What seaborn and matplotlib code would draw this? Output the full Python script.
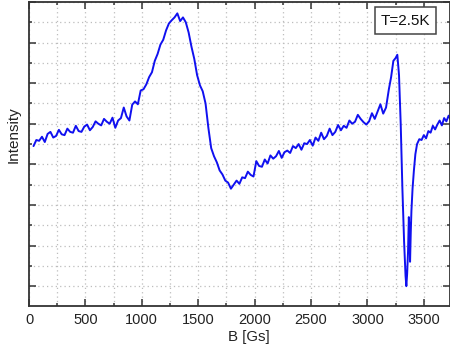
import matplotlib
matplotlib.use("Agg")
import matplotlib.pyplot as plt
import seaborn as sns
import pandas as pd
from matplotlib.ticker import MultipleLocator

B = [40, 65, 90, 115, 140, 165, 190, 215, 240, 265, 290, 315, 340, 365, 390, 415, 440, 465, 490, 515,
     540, 565, 590, 615, 640, 665, 690, 715, 740, 765, 790, 815, 840, 865, 890, 915, 940, 965, 990, 1015,
     1040, 1065, 1090, 1115, 1140, 1165, 1190, 1215, 1240, 1265, 1290, 1315, 1340, 1365, 1390, 1415, 1440, 1465, 1490, 1515,
     1540, 1565, 1590, 1615, 1640, 1665, 1690, 1715, 1740, 1765, 1790, 1815, 1840, 1865, 1890, 1915, 1940, 1965, 1990, 2015,
     2040, 2065, 2090, 2115, 2140, 2165, 2190, 2215, 2240, 2265, 2290, 2315, 2340, 2365, 2390, 2415, 2440, 2465, 2490, 2515,
     2540, 2565, 2590, 2615, 2640, 2665, 2690, 2715, 2740, 2765, 2790, 2815, 2840, 2865, 2890, 2915, 2940, 2965, 2990, 3015,
     3040, 3065, 3090, 3115, 3140, 3165, 3190, 3210, 3230, 3250, 3265, 3280, 3295, 3310, 3325, 3338, 3345, 3352, 3360, 3367,
     3373, 3378, 3384, 3390, 3400, 3412, 3425, 3440, 3460, 3480, 3500, 3520, 3540, 3560, 3580, 3600, 3620, 3640, 3660, 3680,
     3700, 3720, 3735]

intensity = [3.45, 3.60, 3.58, 3.68, 3.55, 3.75, 3.80, 3.66, 3.70, 3.85, 3.74, 3.72, 3.88, 3.80, 3.78, 3.95, 3.82, 3.80, 3.93, 3.98,
             3.84, 3.92, 4.06, 4.00, 3.96, 4.12, 4.05, 4.00, 4.15, 3.90, 4.08, 4.14, 4.40, 4.18, 4.08, 4.47, 4.55, 4.48, 4.82, 4.85,
             4.97, 5.15, 5.27, 5.55, 5.72, 5.95, 6.07, 6.30, 6.47, 6.55, 6.62, 6.72, 6.53, 6.62, 6.50, 6.25, 5.90, 5.60, 5.20, 4.95,
             4.80, 4.50, 3.90, 3.40, 3.20, 3.05, 2.85, 2.75, 2.60, 2.55, 2.40, 2.50, 2.60, 2.52, 2.68, 2.66, 2.82, 2.74, 2.70, 3.08,
             2.96, 2.94, 3.12, 3.02, 3.22, 3.14, 3.20, 3.33, 3.16, 3.30, 3.34, 3.28, 3.45, 3.40, 3.50, 3.36, 3.52, 3.50, 3.60, 3.46,
             3.66, 3.58, 3.78, 3.62, 3.70, 3.88, 3.72, 3.80, 3.97, 3.84, 3.95, 3.90, 4.08, 4.00, 4.05, 4.22, 4.12, 4.04, 3.98, 4.06,
             4.26, 4.12, 4.30, 4.48, 4.25, 4.40, 4.85, 5.15, 5.55, 5.62, 5.70, 5.20, 4.00, 2.40, 1.10, 0.25, 0.00, 0.30, 0.85, 1.70,
             1.40, 0.60, 1.30, 1.85, 2.40, 2.85, 3.25, 3.50, 3.62, 3.60, 3.72, 3.64, 3.82, 3.78, 3.95, 3.86, 3.98, 4.08, 3.96, 4.14,
             4.06, 4.20, 4.12]

label_text = "T=2.5K"

df = pd.DataFrame({"B": B, "I": intensity})

sns.set_style("ticks")
plt.rcParams["font.family"] = ["Liberation Sans", "DejaVu Sans"]

fig = plt.figure(figsize=(4.5, 3.49), dpi=100)
ax = fig.add_axes([29 / 450, 1 - 306 / 349, 421 / 450, 304 / 349])

sns.lineplot(data=df, x="B", y="I", ax=ax, color="#1010f0", linewidth=1.4,
             estimator=None, sort=False)

ax.set_xlim(0, 3732)
ax.set_ylim(-0.49, 7.0)
ax.xaxis.set_major_locator(MultipleLocator(500))
ax.xaxis.set_minor_locator(MultipleLocator(250))
ax.yaxis.set_major_locator(MultipleLocator(1))
ax.yaxis.set_minor_locator(MultipleLocator(0.5))
ax.set_yticklabels([])

ax.grid(True, which="both", color="#bdbdbd", linestyle=(0, (1, 2.5)), linewidth=0.9)
ax.set_axisbelow(True)

for s in ax.spines.values():
    s.set_visible(True)
    s.set_color("#333333")
    s.set_linewidth(1.3)

ax.tick_params(which="both", direction="in", top=True, right=True, color="#333333", width=1.1)
ax.tick_params(which="major", length=5)
ax.tick_params(which="minor", length=2.5)
ax.tick_params(axis="x", labelsize=10.5, pad=5, labelcolor="#222222")

ax.set_xlabel("B [Gs]", fontsize=10.8, color="#222222")
ax.set_ylabel("Intensity", fontsize=11, color="#222222")
ax.xaxis.set_label_coords(0.523, -0.079)
ax.yaxis.set_label_coords(-0.019, 0.564)

ax.text(0.894, 0.939, label_text, transform=ax.transAxes, fontsize=11, ha="center", va="center",
        color="#111111",
        bbox=dict(boxstyle="square,pad=0.4", facecolor="white", edgecolor="#444444", linewidth=1.1))

fig.savefig("out.png", dpi=100)
